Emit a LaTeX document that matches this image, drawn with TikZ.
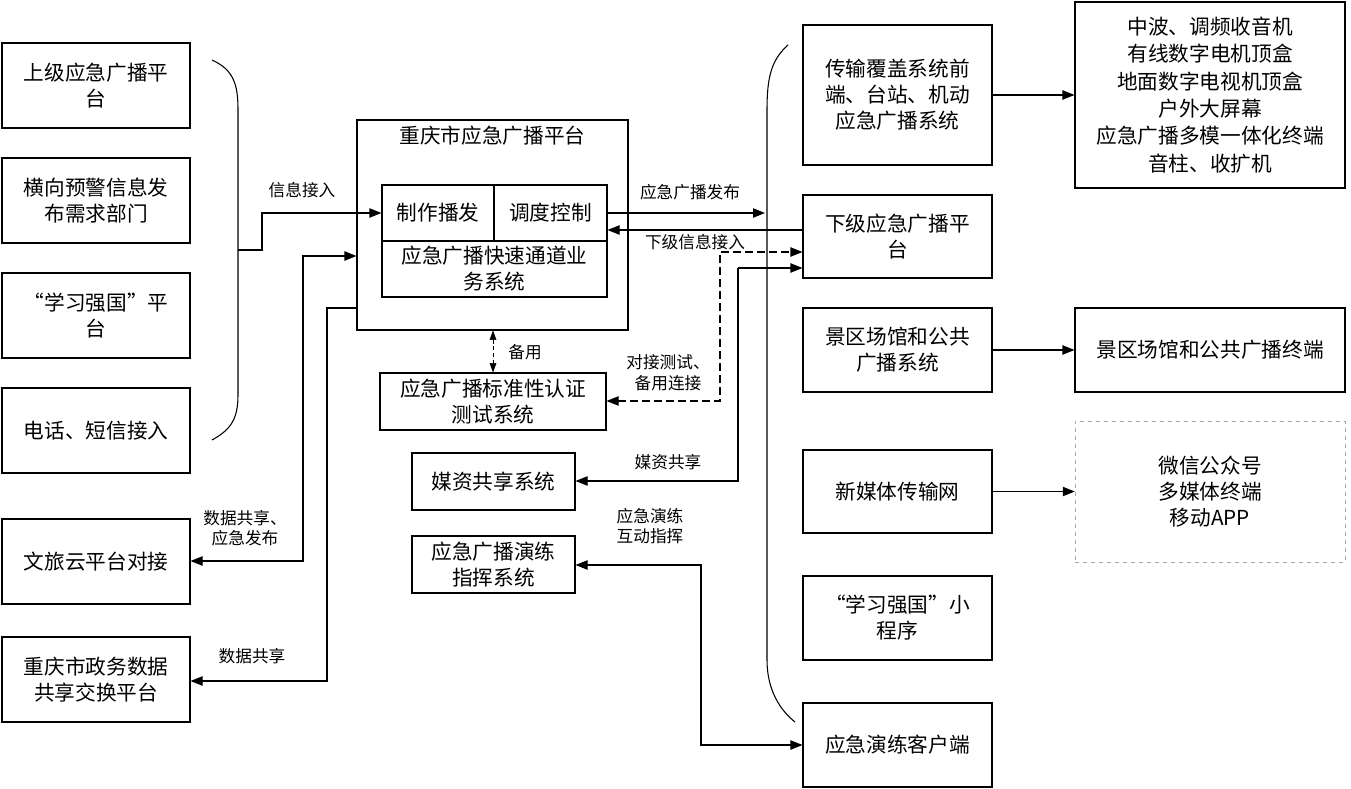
\documentclass[tikz,border=0pt]{standalone}
\usepackage{fontspec}
\setmainfont{Noto Sans CJK SC}
\usetikzlibrary{arrows.meta}
\begin{document}
\begin{tikzpicture}[x=0.75pt,y=-0.75pt,
  every node/.style={font=\fontsize{15.5}{19.5}\selectfont},
  box/.style={draw,thick,align=center,inner sep=1pt},
  lbl/.style={font=\fontsize{12.5}{15.5}\selectfont,align=center},
  arr/.style={thick,-{Triangle[length=9pt,width=7pt]}},
  darr/.style={thick,{Triangle[length=9pt,width=7pt]}-{Triangle[length=9pt,width=7pt]}}]
\useasboundingbox (0,0) rectangle (1351,788);
% left boxes
\begin{scope}[every node/.append style={box,minimum width=141pt,minimum height=63.75pt}]
\node (l1) at (96,85.5) {上级应急广播平\\台};
\node (l2) at (96,200.5) {横向预警信息发\\布需求部门};
\node (l3) at (96,315.5) {“学习强国”平\\台};
\node (l4) at (96,430.5) {电话、短信接入};
\node (l5) at (96,561.5) {文旅云平台对接};
\node (l6) at (96,679.5) {重庆市政务数据\\共享交换平台};
\end{scope}
% brackets
\draw[thick] (212,60) .. controls (234,70) and (238,85) .. (238,110) -- (238,395) .. controls (238,420) and (230,430) .. (212,440);
\draw[thick] (788,45) .. controls (771,60) and (767,78) .. (767,110) -- (767,660) .. controls (767,690) and (780,710) .. (795,722);
% main
\node[box,minimum width=203.25pt,minimum height=157.5pt] (main) at (492.5,225) {};
\node (mt) at (492.5,136) {重庆市应急广播平台};
\node[box,minimum width=84pt,minimum height=42pt] (zz) at (438,213) {制作播发};
\node[box,minimum width=84.75pt,minimum height=42pt] (dd) at (550.5,213) {调度控制};
\node[box,minimum width=168.75pt,minimum height=42pt] (ks) at (494.5,269) {应急广播快速通道业\\务系统};
\node[box,minimum width=169.5pt,minimum height=42.75pt] (std) at (493,401.5) {应急广播标准性认证\\测试系统};
\node[box,minimum width=122.25pt,minimum height=42.75pt] (mz) at (493.5,481.5) {媒资共享系统};
\node[box,minimum width=122.25pt,minimum height=42.75pt] (yl) at (493.5,564.5) {应急广播演练\\指挥系统};
% right column
\begin{scope}[every node/.append style={box,minimum width=141.75pt}]
\node[minimum height=105pt] (r1) at (897.5,95) {传输覆盖系统前\\端、台站、机动\\应急广播系统};
\node[minimum height=62.25pt] (r2) at (897.5,236.5) {下级应急广播平\\台};
\node[minimum height=63pt] (r3) at (897.5,350) {景区场馆和公共\\广播系统};
\node[minimum height=62.25pt] (r4) at (897.5,491.5) {新媒体传输网};
\node[minimum height=63pt] (r5) at (897.5,618) {“学习强国”小\\程序};
\node[minimum height=63pt] (r6) at (897.5,745) {应急演练客户端};
\end{scope}
\node[box,minimum width=202.5pt,minimum height=139.5pt,font=\fontsize{15.5}{20.5}\selectfont] (f1) at (1210,95) {中波、调频收音机\\有线数字电机顶盒\\地面数字电视机顶盒\\户外大屏幕\\应急广播多模一体化终端\\音柱、收扩机};
\node[box,minimum width=202.5pt,minimum height=63pt] (f2) at (1210,350) {景区场馆和公共广播终端};
\node[box,draw=gray!70,dashed,thin,minimum width=202.5pt,minimum height=105.75pt] (f3) at (1210,491.5) {微信公众号\\多媒体终端\\移动APP};
% connectors
\coordinate (bl) at (238,250);
\coordinate (pub) at (765,213);
\draw[arr] (bl) -- (262,250) |- (zz.west);
\draw[darr] (l5.east|-0,561) -- (303,561) |- (main.west|-0,256);
\draw[arr] (main.west|-0,308) -- (327,308) |- (l6.east|-0,681);
\draw[arr] (dd.east) -- (pub);
\draw[arr] (r2.west|-0,230) -- (dd.east|-0,230);
\draw[thick,dash pattern=on 6pt off 3pt,{Triangle[length=9pt,width=7pt]}-{Triangle[length=9pt,width=7pt]}] (std.east|-0,401) -- (720,401) -- (720,252) -- (r2.west|-0,252);
\draw[arr] (738,268) -- (738,481) -- (mz.east|-0,481);
\draw[arr] (738,268) -- (r2.west|-0,268);
\draw[thin,dash pattern=on 3pt off 2pt,{Triangle[length=7pt,width=5pt]}-{Triangle[length=7pt,width=5pt]}] (main.south-|493,0) -- (std.north-|493,0);
\draw[darr] (yl.east|-0,565) -- (701,565) |- (r6.west);
\draw[arr] (r1.east) -- (f1.west);
\draw[arr] (r3.east) -- (f2.west);
\draw[arr] (r4.east) -- (f3.west);
% labels
\node[lbl] (t1) at (302,190) {信息接入};
\node[lbl] (t2) at (690,192) {应急广播发布};
\node[lbl] (t3) at (695,242) {下级信息接入};
\node[lbl] (t4) at (525,352) {备用};
\node[lbl] (t5) at (668,373) {对接测试、\\备用连接};
\node[lbl] (t6) at (668,462) {媒资共享};
\node[lbl] (t7) at (650,526) {应急演练\\互动指挥};
\node[lbl] (t8) at (245,528) {数据共享、\\应急发布};
\node[lbl] (t9) at (252,656) {数据共享};
\end{tikzpicture}
\end{document}
